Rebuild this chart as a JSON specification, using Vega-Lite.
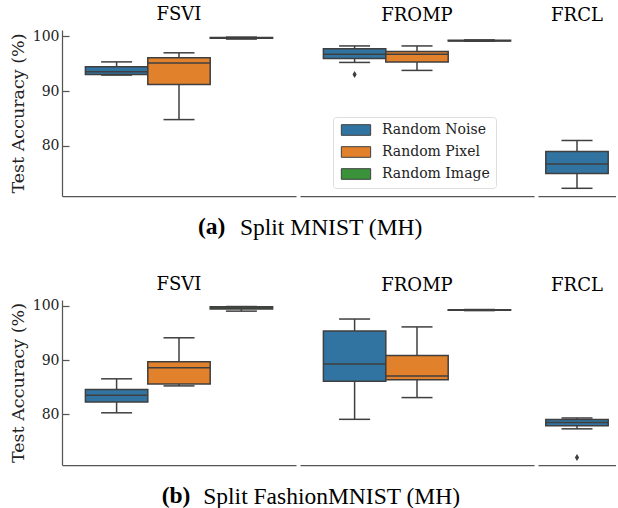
{
  "$schema": "https://vega.github.io/schema/vega-lite/v6.json",
  "padding": {"left": 9, "top": 6, "right": 0, "bottom": 0},
  "datasets": {
    "boxes": [
      {"row": "a", "method": "FSVI", "ctx": "Random Noise", "lower": 92.9, "q1": 93.0, "median": 93.5, "q3": 94.4, "upper": 95.3},
      {"row": "a", "method": "FSVI", "ctx": "Random Pixel", "lower": 84.8, "q1": 91.2, "median": 95.1, "q3": 96.05, "upper": 96.95},
      {"row": "a", "method": "FSVI", "ctx": "Random Image", "lower": 99.45, "q1": 99.6, "median": 99.7, "q3": 99.75, "upper": 99.8},
      {"row": "a", "method": "FROMP", "ctx": "Random Noise", "lower": 95.2, "q1": 95.9, "median": 96.7, "q3": 97.7, "upper": 98.2},
      {"row": "a", "method": "FROMP", "ctx": "Random Pixel", "lower": 93.75, "q1": 95.3, "median": 96.7, "q3": 97.2, "upper": 98.2},
      {"row": "a", "method": "FROMP", "ctx": "Random Image", "lower": 99.05, "q1": 99.1, "median": 99.15, "q3": 99.25, "upper": 99.3},
      {"row": "a", "method": "FRCL", "ctx": "Random Noise", "lower": 72.3, "q1": 75.0, "median": 76.7, "q3": 79.0, "upper": 81.0},
      {"row": "b", "method": "FSVI", "ctx": "Random Noise", "lower": 80.3, "q1": 82.3, "median": 83.55, "q3": 84.6, "upper": 86.55},
      {"row": "b", "method": "FSVI", "ctx": "Random Pixel", "lower": 85.25, "q1": 85.6, "median": 88.6, "q3": 89.7, "upper": 94.1},
      {"row": "b", "method": "FSVI", "ctx": "Random Image", "lower": 99.0, "q1": 99.4, "median": 99.6, "q3": 99.8, "upper": 99.85},
      {"row": "b", "method": "FROMP", "ctx": "Random Noise", "lower": 79.1, "q1": 86.1, "median": 89.3, "q3": 95.35, "upper": 97.55},
      {"row": "b", "method": "FROMP", "ctx": "Random Pixel", "lower": 83.1, "q1": 86.4, "median": 87.05, "q3": 90.85, "upper": 96.1},
      {"row": "b", "method": "FROMP", "ctx": "Random Image", "lower": 99.1, "q1": 99.15, "median": 99.2, "q3": 99.25, "upper": 99.3},
      {"row": "b", "method": "FRCL", "ctx": "Random Noise", "lower": 77.35, "q1": 77.9, "median": 78.5, "q3": 79.05, "upper": 79.35}
    ],
    "outliers": [
      {"row": "a", "method": "FROMP", "ctx": "Random Noise", "value": 93.0},
      {"row": "b", "method": "FRCL", "ctx": "Random Noise", "value": 72.1}
    ]
  },
  "resolve": {"scale": {"x": "independent", "y": "independent", "fill": "independent"}, "legend": {"fill": "independent"}, "axis": {"x": "independent", "y": "independent"}},
  "spacing": 35,
  "vconcat": [
    {
      "title": {"text": "(a)", "orient": "bottom", "anchor": "middle", "frame": "bounds", "font": "Liberation Serif", "fontSize": 23.5, "fontWeight": "bold", "dx": -101, "dy": -25, "offset": 0},
      "resolve": {"scale": {"x": "independent", "y": "independent", "fill": "independent"}, "legend": {"fill": "independent"}, "axis": {"x": "independent", "y": "independent"}},
      "vconcat": [
        {
          "title": {"text": "Split MNIST (MH)", "orient": "bottom", "anchor": "middle", "frame": "bounds", "font": "Liberation Serif", "fontSize": 23.5, "fontWeight": "normal", "dx": 18.5, "offset": 20},
          "resolve": {"scale": {"x": "independent", "y": "independent", "fill": "independent"}, "legend": {"fill": "independent"}, "axis": {"x": "independent", "y": "independent"}},
          "spacing": 4,
          "hconcat": [
            {
              "width": 234, "height": 166,
              "title": {"text": "FSVI"},
              "encoding": {"x": {"field": "ctx", "type": "nominal", "sort": null, "scale": {"domain": ["Random Noise", "Random Pixel", "Random Image"], "paddingInner": 0, "paddingOuter": 0.375}, "axis": {"title": null, "labels": false, "ticks": false, "domain": true}}},
              "layer": [
                {"data": {"name": "boxes"}, "transform": [{"filter": "datum.row === 'a' && datum.method === 'FSVI'"}], "mark": {"type": "rule", "color": "#3f3f3f", "strokeWidth": 1.5, "opacity": 1},
                 "encoding": {"y": {"field": "lower", "type": "quantitative", "scale": {"domain": [70.9, 101.1], "nice": false, "zero": false}, "axis": {"title": "Test Accuracy (%)", "values": [80, 90, 100], "tickSize": -7, "labelPadding": 10, "titlePadding": 5}}, "y2": {"field": "upper"}}},
                {"data": {"name": "boxes"}, "transform": [{"filter": "datum.row === 'a' && datum.method === 'FSVI'"}], "mark": {"type": "bar", "stroke": "#3f3f3f", "strokeWidth": 1.5, "opacity": 1},
                 "encoding": {"y": {"field": "q1", "type": "quantitative", "scale": {"domain": [70.9, 101.1], "nice": false, "zero": false}, "axis": {"title": "Test Accuracy (%)", "values": [80, 90, 100], "tickSize": -7, "labelPadding": 10, "titlePadding": 5}}, "y2": {"field": "q3"},
                   "fill": {"field": "ctx", "type": "nominal", "scale": {"domain": ["Random Noise", "Random Pixel", "Random Image"], "range": ["#3274a1", "#e1812c", "#3a923a"]}, "legend": null}}},
                {"data": {"name": "boxes"}, "transform": [{"filter": "datum.row === 'a' && datum.method === 'FSVI'"}], "mark": {"type": "tick", "color": "#3f3f3f", "thickness": 1.5, "size": 62.4, "opacity": 1},
                 "encoding": {"y": {"field": "median", "type": "quantitative", "scale": {"domain": [70.9, 101.1], "nice": false, "zero": false}, "axis": {"title": "Test Accuracy (%)", "values": [80, 90, 100], "tickSize": -7, "labelPadding": 10, "titlePadding": 5}}}},
                {"data": {"name": "boxes"}, "transform": [{"filter": "datum.row === 'a' && datum.method === 'FSVI'"}], "mark": {"type": "tick", "color": "#3f3f3f", "thickness": 1.5, "size": 31, "opacity": 1},
                 "encoding": {"y": {"field": "lower", "type": "quantitative", "scale": {"domain": [70.9, 101.1], "nice": false, "zero": false}, "axis": {"title": "Test Accuracy (%)", "values": [80, 90, 100], "tickSize": -7, "labelPadding": 10, "titlePadding": 5}}}},
                {"data": {"name": "boxes"}, "transform": [{"filter": "datum.row === 'a' && datum.method === 'FSVI'"}], "mark": {"type": "tick", "color": "#3f3f3f", "thickness": 1.5, "size": 31, "opacity": 1},
                 "encoding": {"y": {"field": "upper", "type": "quantitative", "scale": {"domain": [70.9, 101.1], "nice": false, "zero": false}, "axis": {"title": "Test Accuracy (%)", "values": [80, 90, 100], "tickSize": -7, "labelPadding": 10, "titlePadding": 5}}}}
              ]
            },
            {
              "width": 234, "height": 166,
              "title": {"text": "FROMP"},
              "encoding": {"x": {"field": "ctx", "type": "nominal", "sort": null, "scale": {"domain": ["Random Noise", "Random Pixel", "Random Image"], "paddingInner": 0, "paddingOuter": 0.375}, "axis": {"title": null, "labels": false, "ticks": false, "domain": true}}},
              "layer": [
                {"data": {"name": "boxes"}, "transform": [{"filter": "datum.row === 'a' && datum.method === 'FROMP'"}], "mark": {"type": "rule", "color": "#3f3f3f", "strokeWidth": 1.5, "opacity": 1},
                 "encoding": {"y": {"field": "lower", "type": "quantitative", "scale": {"domain": [70.9, 101.1], "nice": false, "zero": false}, "axis": null}, "y2": {"field": "upper"}}},
                {"data": {"name": "boxes"}, "transform": [{"filter": "datum.row === 'a' && datum.method === 'FROMP'"}], "mark": {"type": "bar", "stroke": "#3f3f3f", "strokeWidth": 1.5, "opacity": 1},
                 "encoding": {"y": {"field": "q1", "type": "quantitative", "scale": {"domain": [70.9, 101.1], "nice": false, "zero": false}, "axis": null}, "y2": {"field": "q3"},
                   "fill": {"field": "ctx", "type": "nominal", "scale": {"domain": ["Random Noise", "Random Pixel", "Random Image"], "range": ["#3274a1", "#e1812c", "#3a923a"]},
                     "legend": {"orient": "none", "legendX": 33, "legendY": 87, "title": null, "symbolType": "M-2.93,-1.06H2.93V1.06H-2.93Z", "symbolSize": 100, "symbolOffset": 10, "symbolStrokeColor": "#3f3f3f", "symbolStrokeWidth": 1, "labelOffset": 19, "labelFont": "DejaVu Serif", "labelFontSize": 14, "labelColor": "#222", "rowPadding": 6, "padding": 6, "strokeColor": "#dddddd", "fillColor": "white", "cornerRadius": 3}}}},
                {"data": {"name": "boxes"}, "transform": [{"filter": "datum.row === 'a' && datum.method === 'FROMP'"}], "mark": {"type": "tick", "color": "#3f3f3f", "thickness": 1.5, "size": 62.4, "opacity": 1},
                 "encoding": {"y": {"field": "median", "type": "quantitative", "scale": {"domain": [70.9, 101.1], "nice": false, "zero": false}, "axis": null}}},
                {"data": {"name": "boxes"}, "transform": [{"filter": "datum.row === 'a' && datum.method === 'FROMP'"}], "mark": {"type": "tick", "color": "#3f3f3f", "thickness": 1.5, "size": 31, "opacity": 1},
                 "encoding": {"y": {"field": "lower", "type": "quantitative", "scale": {"domain": [70.9, 101.1], "nice": false, "zero": false}, "axis": null}}},
                {"data": {"name": "boxes"}, "transform": [{"filter": "datum.row === 'a' && datum.method === 'FROMP'"}], "mark": {"type": "tick", "color": "#3f3f3f", "thickness": 1.5, "size": 31, "opacity": 1},
                 "encoding": {"y": {"field": "upper", "type": "quantitative", "scale": {"domain": [70.9, 101.1], "nice": false, "zero": false}, "axis": null}}},
                {"data": {"name": "outliers"}, "transform": [{"filter": "datum.row === 'a' && datum.method === 'FROMP'"}], "mark": {"type": "point", "shape": "M0,-1L0.6,0L0,1L-0.6,0Z", "filled": true, "color": "#3f3f3f", "size": 49, "opacity": 1},
                 "encoding": {"y": {"field": "value", "type": "quantitative", "scale": {"domain": [70.9, 101.1], "nice": false, "zero": false}, "axis": null}}}
              ]
            },
            {
              "width": 78, "height": 166,
              "title": {"text": "FRCL"},
              "encoding": {"x": {"field": "ctx", "type": "nominal", "sort": null, "scale": {"domain": ["Random Noise"], "paddingInner": 0, "paddingOuter": 0.125}, "axis": {"title": null, "labels": false, "ticks": false, "domain": true}}},
              "layer": [
                {"data": {"name": "boxes"}, "transform": [{"filter": "datum.row === 'a' && datum.method === 'FRCL'"}], "mark": {"type": "rule", "color": "#3f3f3f", "strokeWidth": 1.5, "opacity": 1},
                 "encoding": {"y": {"field": "lower", "type": "quantitative", "scale": {"domain": [70.9, 101.1], "nice": false, "zero": false}, "axis": null}, "y2": {"field": "upper"}}},
                {"data": {"name": "boxes"}, "transform": [{"filter": "datum.row === 'a' && datum.method === 'FRCL'"}], "mark": {"type": "bar", "stroke": "#3f3f3f", "strokeWidth": 1.5, "opacity": 1},
                 "encoding": {"y": {"field": "q1", "type": "quantitative", "scale": {"domain": [70.9, 101.1], "nice": false, "zero": false}, "axis": null}, "y2": {"field": "q3"},
                   "fill": {"field": "ctx", "type": "nominal", "scale": {"domain": ["Random Noise", "Random Pixel", "Random Image"], "range": ["#3274a1", "#e1812c", "#3a923a"]}, "legend": null}}},
                {"data": {"name": "boxes"}, "transform": [{"filter": "datum.row === 'a' && datum.method === 'FRCL'"}], "mark": {"type": "tick", "color": "#3f3f3f", "thickness": 1.5, "size": 62.4, "opacity": 1},
                 "encoding": {"y": {"field": "median", "type": "quantitative", "scale": {"domain": [70.9, 101.1], "nice": false, "zero": false}, "axis": null}}},
                {"data": {"name": "boxes"}, "transform": [{"filter": "datum.row === 'a' && datum.method === 'FRCL'"}], "mark": {"type": "tick", "color": "#3f3f3f", "thickness": 1.5, "size": 31, "opacity": 1},
                 "encoding": {"y": {"field": "lower", "type": "quantitative", "scale": {"domain": [70.9, 101.1], "nice": false, "zero": false}, "axis": null}}},
                {"data": {"name": "boxes"}, "transform": [{"filter": "datum.row === 'a' && datum.method === 'FRCL'"}], "mark": {"type": "tick", "color": "#3f3f3f", "thickness": 1.5, "size": 31, "opacity": 1},
                 "encoding": {"y": {"field": "upper", "type": "quantitative", "scale": {"domain": [70.9, 101.1], "nice": false, "zero": false}, "axis": null}}}
              ]
            }
          ]
        }
      ]
    },
    {
      "title": {"text": "(b)", "orient": "bottom", "anchor": "middle", "frame": "bounds", "font": "Liberation Serif", "fontSize": 23.5, "fontWeight": "bold", "dx": -136.6, "dy": -25, "offset": 0},
      "resolve": {"scale": {"x": "independent", "y": "independent", "fill": "independent"}, "legend": {"fill": "independent"}, "axis": {"x": "independent", "y": "independent"}},
      "vconcat": [
        {
          "title": {"text": "Split FashionMNIST (MH)", "orient": "bottom", "anchor": "middle", "frame": "bounds", "font": "Liberation Serif", "fontSize": 23.5, "fontWeight": "normal", "dx": 19, "offset": 20},
          "resolve": {"scale": {"x": "independent", "y": "independent", "fill": "independent"}, "legend": {"fill": "independent"}, "axis": {"x": "independent", "y": "independent"}},
          "spacing": 4,
          "hconcat": [
            {
              "width": 234, "height": 165,
              "title": {"text": "FSVI"},
              "encoding": {"x": {"field": "ctx", "type": "nominal", "sort": null, "scale": {"domain": ["Random Noise", "Random Pixel", "Random Image"], "paddingInner": 0, "paddingOuter": 0.375}, "axis": {"title": null, "labels": false, "ticks": false, "domain": true}}},
              "layer": [
                {"data": {"name": "boxes"}, "transform": [{"filter": "datum.row === 'b' && datum.method === 'FSVI'"}], "mark": {"type": "rule", "color": "#3f3f3f", "strokeWidth": 1.5, "opacity": 1},
                 "encoding": {"y": {"field": "lower", "type": "quantitative", "scale": {"domain": [70.7, 101.05], "nice": false, "zero": false}, "axis": {"title": "Test Accuracy (%)", "values": [80, 90, 100], "tickSize": -7, "labelPadding": 10, "titlePadding": 5}}, "y2": {"field": "upper"}}},
                {"data": {"name": "boxes"}, "transform": [{"filter": "datum.row === 'b' && datum.method === 'FSVI'"}], "mark": {"type": "bar", "stroke": "#3f3f3f", "strokeWidth": 1.5, "opacity": 1},
                 "encoding": {"y": {"field": "q1", "type": "quantitative", "scale": {"domain": [70.7, 101.05], "nice": false, "zero": false}, "axis": {"title": "Test Accuracy (%)", "values": [80, 90, 100], "tickSize": -7, "labelPadding": 10, "titlePadding": 5}}, "y2": {"field": "q3"},
                   "fill": {"field": "ctx", "type": "nominal", "scale": {"domain": ["Random Noise", "Random Pixel", "Random Image"], "range": ["#3274a1", "#e1812c", "#3a923a"]}, "legend": null}}},
                {"data": {"name": "boxes"}, "transform": [{"filter": "datum.row === 'b' && datum.method === 'FSVI'"}], "mark": {"type": "tick", "color": "#3f3f3f", "thickness": 1.5, "size": 62.4, "opacity": 1},
                 "encoding": {"y": {"field": "median", "type": "quantitative", "scale": {"domain": [70.7, 101.05], "nice": false, "zero": false}, "axis": {"title": "Test Accuracy (%)", "values": [80, 90, 100], "tickSize": -7, "labelPadding": 10, "titlePadding": 5}}}},
                {"data": {"name": "boxes"}, "transform": [{"filter": "datum.row === 'b' && datum.method === 'FSVI'"}], "mark": {"type": "tick", "color": "#3f3f3f", "thickness": 1.5, "size": 31, "opacity": 1},
                 "encoding": {"y": {"field": "lower", "type": "quantitative", "scale": {"domain": [70.7, 101.05], "nice": false, "zero": false}, "axis": {"title": "Test Accuracy (%)", "values": [80, 90, 100], "tickSize": -7, "labelPadding": 10, "titlePadding": 5}}}},
                {"data": {"name": "boxes"}, "transform": [{"filter": "datum.row === 'b' && datum.method === 'FSVI'"}], "mark": {"type": "tick", "color": "#3f3f3f", "thickness": 1.5, "size": 31, "opacity": 1},
                 "encoding": {"y": {"field": "upper", "type": "quantitative", "scale": {"domain": [70.7, 101.05], "nice": false, "zero": false}, "axis": {"title": "Test Accuracy (%)", "values": [80, 90, 100], "tickSize": -7, "labelPadding": 10, "titlePadding": 5}}}}
              ]
            },
            {
              "width": 234, "height": 165,
              "title": {"text": "FROMP"},
              "encoding": {"x": {"field": "ctx", "type": "nominal", "sort": null, "scale": {"domain": ["Random Noise", "Random Pixel", "Random Image"], "paddingInner": 0, "paddingOuter": 0.375}, "axis": {"title": null, "labels": false, "ticks": false, "domain": true}}},
              "layer": [
                {"data": {"name": "boxes"}, "transform": [{"filter": "datum.row === 'b' && datum.method === 'FROMP'"}], "mark": {"type": "rule", "color": "#3f3f3f", "strokeWidth": 1.5, "opacity": 1},
                 "encoding": {"y": {"field": "lower", "type": "quantitative", "scale": {"domain": [70.7, 101.05], "nice": false, "zero": false}, "axis": null}, "y2": {"field": "upper"}}},
                {"data": {"name": "boxes"}, "transform": [{"filter": "datum.row === 'b' && datum.method === 'FROMP'"}], "mark": {"type": "bar", "stroke": "#3f3f3f", "strokeWidth": 1.5, "opacity": 1},
                 "encoding": {"y": {"field": "q1", "type": "quantitative", "scale": {"domain": [70.7, 101.05], "nice": false, "zero": false}, "axis": null}, "y2": {"field": "q3"},
                   "fill": {"field": "ctx", "type": "nominal", "scale": {"domain": ["Random Noise", "Random Pixel", "Random Image"], "range": ["#3274a1", "#e1812c", "#3a923a"]}, "legend": null}}},
                {"data": {"name": "boxes"}, "transform": [{"filter": "datum.row === 'b' && datum.method === 'FROMP'"}], "mark": {"type": "tick", "color": "#3f3f3f", "thickness": 1.5, "size": 62.4, "opacity": 1},
                 "encoding": {"y": {"field": "median", "type": "quantitative", "scale": {"domain": [70.7, 101.05], "nice": false, "zero": false}, "axis": null}}},
                {"data": {"name": "boxes"}, "transform": [{"filter": "datum.row === 'b' && datum.method === 'FROMP'"}], "mark": {"type": "tick", "color": "#3f3f3f", "thickness": 1.5, "size": 31, "opacity": 1},
                 "encoding": {"y": {"field": "lower", "type": "quantitative", "scale": {"domain": [70.7, 101.05], "nice": false, "zero": false}, "axis": null}}},
                {"data": {"name": "boxes"}, "transform": [{"filter": "datum.row === 'b' && datum.method === 'FROMP'"}], "mark": {"type": "tick", "color": "#3f3f3f", "thickness": 1.5, "size": 31, "opacity": 1},
                 "encoding": {"y": {"field": "upper", "type": "quantitative", "scale": {"domain": [70.7, 101.05], "nice": false, "zero": false}, "axis": null}}}
              ]
            },
            {
              "width": 78, "height": 165,
              "title": {"text": "FRCL"},
              "encoding": {"x": {"field": "ctx", "type": "nominal", "sort": null, "scale": {"domain": ["Random Noise"], "paddingInner": 0, "paddingOuter": 0.125}, "axis": {"title": null, "labels": false, "ticks": false, "domain": true}}},
              "layer": [
                {"data": {"name": "boxes"}, "transform": [{"filter": "datum.row === 'b' && datum.method === 'FRCL'"}], "mark": {"type": "rule", "color": "#3f3f3f", "strokeWidth": 1.5, "opacity": 1},
                 "encoding": {"y": {"field": "lower", "type": "quantitative", "scale": {"domain": [70.7, 101.05], "nice": false, "zero": false}, "axis": null}, "y2": {"field": "upper"}}},
                {"data": {"name": "boxes"}, "transform": [{"filter": "datum.row === 'b' && datum.method === 'FRCL'"}], "mark": {"type": "bar", "stroke": "#3f3f3f", "strokeWidth": 1.5, "opacity": 1},
                 "encoding": {"y": {"field": "q1", "type": "quantitative", "scale": {"domain": [70.7, 101.05], "nice": false, "zero": false}, "axis": null}, "y2": {"field": "q3"},
                   "fill": {"field": "ctx", "type": "nominal", "scale": {"domain": ["Random Noise", "Random Pixel", "Random Image"], "range": ["#3274a1", "#e1812c", "#3a923a"]}, "legend": null}}},
                {"data": {"name": "boxes"}, "transform": [{"filter": "datum.row === 'b' && datum.method === 'FRCL'"}], "mark": {"type": "tick", "color": "#3f3f3f", "thickness": 1.5, "size": 62.4, "opacity": 1},
                 "encoding": {"y": {"field": "median", "type": "quantitative", "scale": {"domain": [70.7, 101.05], "nice": false, "zero": false}, "axis": null}}},
                {"data": {"name": "boxes"}, "transform": [{"filter": "datum.row === 'b' && datum.method === 'FRCL'"}], "mark": {"type": "tick", "color": "#3f3f3f", "thickness": 1.5, "size": 31, "opacity": 1},
                 "encoding": {"y": {"field": "lower", "type": "quantitative", "scale": {"domain": [70.7, 101.05], "nice": false, "zero": false}, "axis": null}}},
                {"data": {"name": "boxes"}, "transform": [{"filter": "datum.row === 'b' && datum.method === 'FRCL'"}], "mark": {"type": "tick", "color": "#3f3f3f", "thickness": 1.5, "size": 31, "opacity": 1},
                 "encoding": {"y": {"field": "upper", "type": "quantitative", "scale": {"domain": [70.7, 101.05], "nice": false, "zero": false}, "axis": null}}},
                {"data": {"name": "outliers"}, "transform": [{"filter": "datum.row === 'b' && datum.method === 'FRCL'"}], "mark": {"type": "point", "shape": "M0,-1L0.6,0L0,1L-0.6,0Z", "filled": true, "color": "#3f3f3f", "size": 49, "opacity": 1},
                 "encoding": {"y": {"field": "value", "type": "quantitative", "scale": {"domain": [70.7, 101.05], "nice": false, "zero": false}, "axis": null}}}
              ]
            }
          ]
        }
      ]
    }
  ],
  "config": {
    "view": {"stroke": null},
    "font": "DejaVu Serif",
    "title": {"font": "DejaVu Serif", "fontSize": 18, "fontWeight": "normal", "color": "#000000", "offset": 5},
    "axis": {"domainColor": "#555555", "domainWidth": 1.25, "tickColor": "#555555", "tickWidth": 1.25, "labelFont": "DejaVu Serif", "labelFontSize": 14, "labelColor": "#222222", "titleFont": "DejaVu Serif", "titleFontSize": 17.5, "titleFontWeight": "normal", "titleColor": "#222222", "grid": false}
  }
}
